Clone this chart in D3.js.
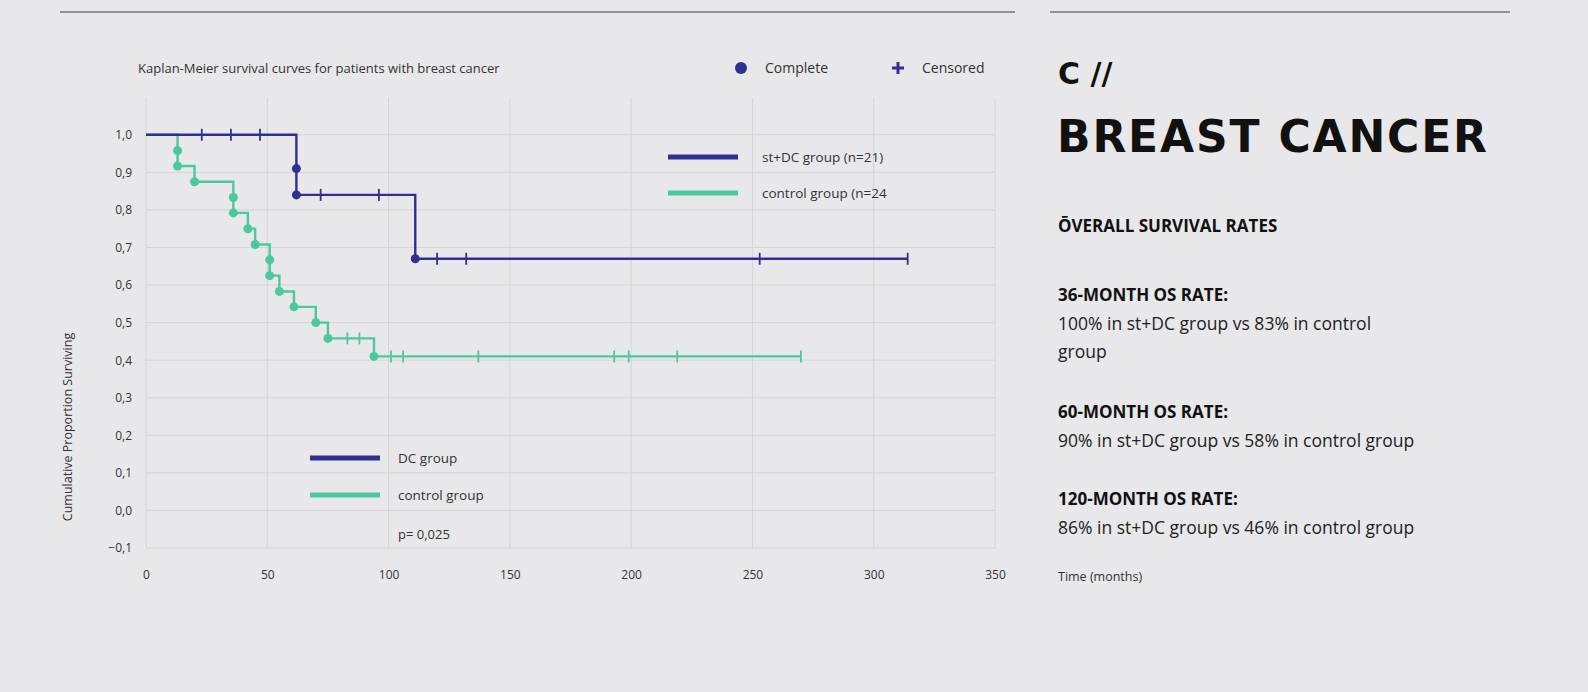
<!DOCTYPE html>
<html><head><meta charset="utf-8">
<script src="https://cdn.jsdelivr.net/npm/d3@7"></script>
<style>
body{margin:0;background:#e8e8ea;font-family:"Open Sans",sans-serif;}
</style></head><body>
<svg id="c" width="1588" height="692"></svg>
<script>
// st+DC group: [time, survival] steps, events and censored marks
const dcSteps = [[0,1.0],[62,0.91],[62,0.84],[111,0.67]];
const dcEvents = [[62,0.91],[62,0.84],[111,0.67]];
const dcCensored = [[23,1.0],[35,1.0],[47,1.0],[72,0.84],[96,0.84],[120,0.67],[132,0.67],[253,0.67],[314,0.67]];
const dcEnd = 314;

const ctlSteps = [[0,1.0],[13,0.958],[13,0.917],[20,0.875],[36,0.833],[36,0.792],[42,0.75],[45,0.708],
  [51,0.667],[51,0.625],[55,0.583],[61,0.542],[70,0.5],[75,0.458],[94,0.41]];
const ctlEvents = ctlSteps.slice(1);
const ctlCensored = [[83,0.458],[88,0.458],[101,0.41],[106,0.41],[137,0.41],[193,0.41],[199,0.41],[219,0.41],[270,0.41]];
const ctlEnd = 270;

const xTicks = [0,50,100,150,200,250,300,350];
const yTicks = [-0.1,0,0.1,0.2,0.3,0.4,0.5,0.6,0.7,0.8,0.9,1.0];

const blue = "#2e3192", green = "#4cc99c";
const svg = d3.select("#c");

svg.append("line").attr("x1",60).attr("x2",1015).attr("y1",12).attr("y2",12).attr("stroke","#777").attr("stroke-width",1.5);
svg.append("line").attr("x1",1050).attr("x2",1510).attr("y1",12).attr("y2",12).attr("stroke","#777").attr("stroke-width",1.5);

const x = d3.scaleLinear().domain([0,350]).range([146,995]);
const y = d3.scaleLinear().domain([-0.1,1.05]).range([548,116]);

const g = svg.append("g");
// grid
g.selectAll(".vg").data(xTicks).join("line").attr("x1",d=>x(d)).attr("x2",d=>x(d))
  .attr("y1",98).attr("y2",548).attr("stroke","#d4d4d8");
g.selectAll(".hg").data(yTicks).join("line").attr("x1",146).attr("x2",995)
  .attr("y1",d=>y(d)).attr("y2",d=>y(d)).attr("stroke","#d4d4d8");

g.append("g").attr("transform","translate(0,548)")
  .call(d3.axisBottom(x).tickValues(xTicks).tickSize(0).tickPadding(22))
  .call(a=>a.select(".domain").remove())
  .selectAll("text").attr("font-size",12).attr("fill","#333").attr("font-family","Open Sans");
g.append("g").attr("transform","translate(146,0)")
  .call(d3.axisLeft(y).tickValues(yTicks).tickSize(0).tickPadding(14).tickFormat(d=>d3.format(".1f")(d).replace(".",",")))
  .call(a=>a.select(".domain").remove())
  .selectAll("text").attr("font-size",12).attr("fill","#333").attr("font-family","Open Sans");

svg.append("text").attr("transform","translate(72,427) rotate(-90)").attr("text-anchor","middle")
  .attr("font-size",12.5).attr("fill","#333").text("Cumulative Proportion Surviving");

function curve(steps, events, cens, end, col){
  const pts = steps.concat([[end, steps[steps.length-1][1]]]);
  const line = d3.line().x(d=>x(d[0])).y(d=>y(d[1])).curve(d3.curveStepAfter);
  g.append("path").attr("d",line(pts)).attr("fill","none").attr("stroke",col).attr("stroke-width",2.4);
  g.selectAll(null).data(events).join("circle").attr("cx",d=>x(d[0])).attr("cy",d=>y(d[1])).attr("r",4.5).attr("fill",col);
  g.selectAll(null).data(cens).join("line").attr("x1",d=>x(d[0])).attr("x2",d=>x(d[0]))
    .attr("y1",d=>y(d[1])-6).attr("y2",d=>y(d[1])+6).attr("stroke",col).attr("stroke-width",1.8);
}
curve(ctlSteps, ctlEvents, ctlCensored, ctlEnd, green);
curve(dcSteps, dcEvents, dcCensored, dcEnd, blue);

svg.append("text").attr("x",138).attr("y",73).attr("font-size",13).attr("fill","#333").text("Kaplan-Meier survival curves for patients with breast cancer");
svg.append("circle").attr("cx",741).attr("cy",68).attr("r",6).attr("fill",blue);
svg.append("text").attr("x",765).attr("y",73).attr("font-size",14).attr("fill","#333").text("Complete");
svg.append("path").attr("d","M892,68h12M898,62v12").attr("stroke",blue).attr("stroke-width",3);
svg.append("text").attr("x",922).attr("y",73).attr("font-size",14).attr("fill","#333").text("Censored");

function legend(x0,x1,yy,col,label,tx){
  svg.append("line").attr("x1",x0).attr("x2",x1).attr("y1",yy).attr("y2",yy).attr("stroke",col).attr("stroke-width",5);
  svg.append("text").attr("x",tx).attr("y",yy+5).attr("font-size",13.5).attr("fill","#333").text(label);
}
legend(668,738,157,blue,"st+DC group (n=21)",762);
legend(668,738,193,green,"control group (n=24",762);
legend(310,380,458,blue,"DC group",398);
legend(310,380,495,green,"control group",398);
svg.append("text").attr("x",398).attr("y",539).attr("font-size",13).attr("fill","#333").text("p= 0,025");

const r = svg.append("g").attr("fill","#111");
r.append("text").attr("x",1058).attr("y",84).attr("font-size",30).attr("font-weight",700).attr("font-family","DejaVu Sans").text("C //");
r.append("text").attr("x",1057).attr("y",152).attr("font-size",44).attr("font-weight",700).attr("font-family","DejaVu Sans").attr("textLength",430).text("BREAST CANCER");
r.append("text").attr("x",1058).attr("y",232).attr("font-size",17).attr("font-weight",700).text("ŌVERALL SURVIVAL RATES");
const blocks = [
  [301,"36-MONTH OS RATE:",["100% in st+DC group vs 83% in control","group"]],
  [418,"60-MONTH OS RATE:",["90% in st+DC group vs 58% in control group"]],
  [505,"120-MONTH OS RATE:",["86% in st+DC group vs 46% in control group"]]
];
blocks.forEach(([yy,h,lines])=>{
  r.append("text").attr("x",1058).attr("y",yy).attr("font-size",17).attr("font-weight",700).text(h);
  lines.forEach((l,i)=>r.append("text").attr("x",1058).attr("y",yy+29+i*28).attr("font-size",17.5).attr("fill","#222").text(l));
});
r.append("text").attr("x",1058).attr("y",581).attr("font-size",12.5).attr("fill","#333").text("Time (months)");
</script></body></html>
